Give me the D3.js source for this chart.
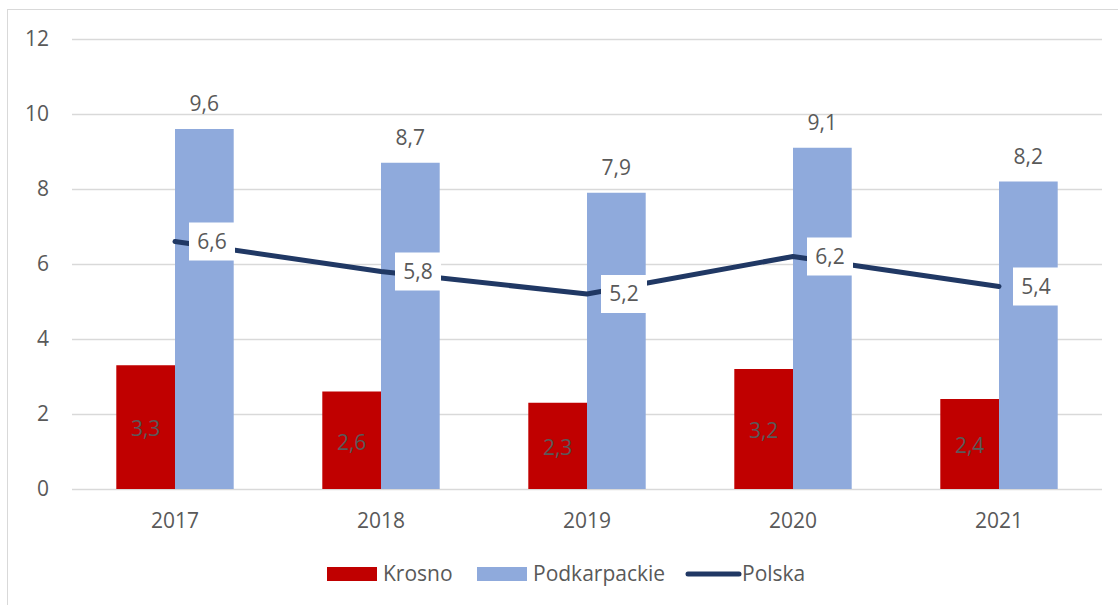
<!DOCTYPE html>
<html lang="pl">
<head>
<meta charset="UTF-8">
<title>Krosno / Podkarpackie / Polska</title>
<script src="https://d3js.org/d3.v7.min.js"></script>
<style>
    body { margin: 0; background: #fff; font-family: "Open Sans", "Liberation Sans", sans-serif; }
    svg text { fill: #595959; font-size: 21px; }
</style>
</head>
<body>
<svg id="chart"></svg>
<script>
    const years = ["2017", "2018", "2019", "2020", "2021"];
    const krosno = [3.3, 2.6, 2.3, 3.2, 2.4];
    const podkarpackie = [9.6, 8.7, 7.9, 9.1, 8.2];
    const polska = [6.6, 5.8, 5.2, 6.2, 5.4];
    const yTicks = [0, 2, 4, 6, 8, 10, 12];
    const seriesNames = ["Krosno", "Podkarpackie", "Polska"];
    const colors = { Krosno: "#c00000", Podkarpackie: "#8faadc", Polska: "#203864" };

    const W = 1118, H = 605;
    const fmt = v => v.toFixed(1).replace(".", ",");

    const svg = d3.select("#chart").attr("width", W).attr("height", H);

    // outer chart frame (runs off the right and bottom edges)
    svg.append("rect")
        .attr("x", 7.5).attr("y", 9.5)
        .attr("width", W + 20).attr("height", H + 20)
        .attr("fill", "none").attr("stroke", "#d9d9d9");

    const x = d3.scaleBand().domain(years).range([72, 1102]);
    const y = d3.scaleLinear().domain([0, 12]).range([489, 39]);
    const barW = 58.7;
    const cx = d => x(d) + x.bandwidth() / 2;

    // gridlines
    svg.append("g").selectAll("line").data(yTicks).join("line")
        .attr("x1", 72).attr("x2", 1102)
        .attr("y1", d => Math.round(y(d)) + 0.5).attr("y2", d => Math.round(y(d)) + 0.5)
        .attr("stroke", "#d9d9d9").attr("stroke-width", 1.5);

    // y tick labels
    svg.append("g").selectAll("text").data(yTicks).join("text")
        .attr("x", 49).attr("y", d => y(d))
        .attr("dy", "0.35em").attr("text-anchor", "end")
        .text(d => d);

    // x labels
    svg.append("g").selectAll("text").data(years).join("text")
        .attr("x", cx).attr("y", 521)
        .attr("dy", "0.35em").attr("text-anchor", "middle")
        .text(d => d);

    // Krosno bars
    svg.append("g").selectAll("rect").data(years).join("rect")
        .attr("x", d => cx(d) - barW).attr("width", barW)
        .attr("y", (d, i) => y(krosno[i])).attr("height", (d, i) => y(0) - y(krosno[i]))
        .attr("fill", colors.Krosno);

    // Podkarpackie bars
    svg.append("g").selectAll("rect").data(years).join("rect")
        .attr("x", d => cx(d)).attr("width", barW)
        .attr("y", (d, i) => y(podkarpackie[i])).attr("height", (d, i) => y(0) - y(podkarpackie[i]))
        .attr("fill", colors.Podkarpackie);

    // Krosno labels (inside bar)
    svg.append("g").selectAll("text").data(years).join("text")
        .attr("x", d => cx(d) - barW / 2)
        .attr("y", (d, i) => (y(krosno[i]) + y(0)) / 2 + 2)
        .attr("dy", "0.35em").attr("text-anchor", "middle")
        .text((d, i) => fmt(krosno[i]));

    // Podkarpackie labels (above bar)
    svg.append("g").selectAll("text").data(years).join("text")
        .attr("x", d => cx(d) + barW / 2)
        .attr("y", (d, i) => y(podkarpackie[i]) - 25)
        .attr("dy", "0.35em").attr("text-anchor", "middle")
        .text((d, i) => fmt(podkarpackie[i]));

    // Polska line
    const pts = years.map((yr, i) => ({ year: yr, v: polska[i] }));
    const line = d3.line().x(d => cx(d.year)).y(d => y(d.v));
    svg.append("path").datum(pts)
        .attr("d", line)
        .attr("fill", "none").attr("stroke", colors.Polska)
        .attr("stroke-width", 5).attr("stroke-linecap", "round").attr("stroke-linejoin", "round");

    // Polska labels in white boxes
    const lab = svg.append("g").selectAll("g").data(pts).join("g")
        .attr("transform", d => `translate(${cx(d.year) + 37},${y(d.v)})`);
    lab.append("rect")
        .attr("x", -23).attr("y", -19).attr("width", 46).attr("height", 38)
        .attr("fill", "#fff");
    lab.append("text")
        .attr("dy", "0.35em").attr("text-anchor", "middle")
        .text(d => fmt(d.v));

    // legend
    const legend = svg.append("g").attr("transform", "translate(0,574)");
    const legX = [327, 477, 686];
    seriesNames.forEach((name, i) => {
        const g = legend.append("g").attr("transform", `translate(${legX[i]},0)`);
        if (name === "Polska") {
            g.append("line").attr("x1", 2).attr("x2", 53).attr("y1", 0).attr("y2", 0)
                .attr("stroke", colors[name]).attr("stroke-width", 5).attr("stroke-linecap", "round");
        } else {
            g.append("rect").attr("x", 0).attr("y", -7).attr("width", 50).attr("height", 14)
                .attr("fill", colors[name]);
        }
        g.append("text").attr("x", 56).attr("dy", "0.35em").text(name);
    });
</script>
</body>
</html>
